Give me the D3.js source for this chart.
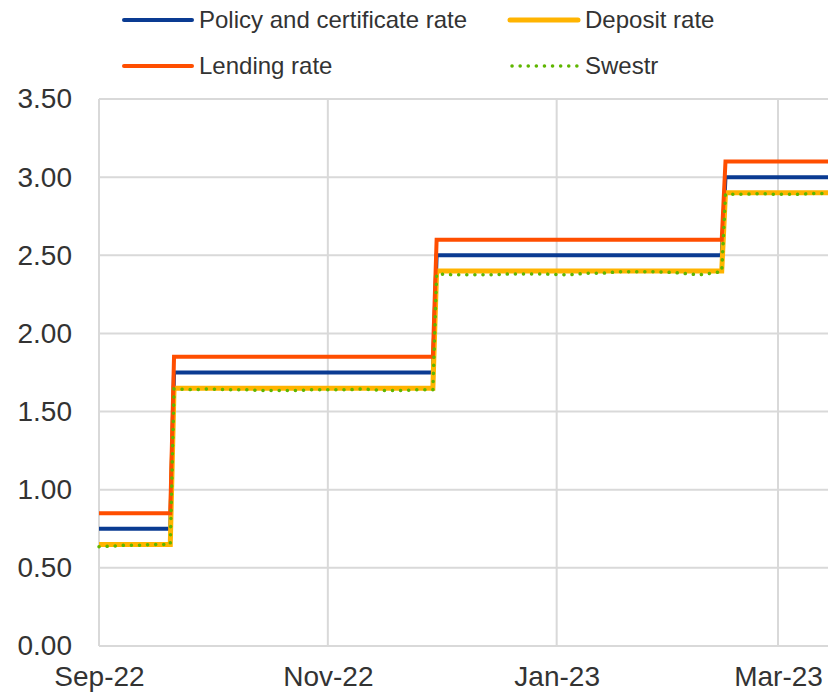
<!DOCTYPE html>
<html>
<head>
<meta charset="utf-8">
<script src="https://cdn.jsdelivr.net/npm/d3@7"></script>
<style>
  html, body { margin: 0; padding: 0; background: #fff; }
  svg { display: block; font-family: "Liberation Sans", Arial, sans-serif; }
</style>
</head>
<body>
<div id="chart"></div>
<script>
// Step dates for the Riksbank rates (day before / day of each change)
const stepDates = ["2022-09-01", "2022-09-20", "2022-09-21", "2022-11-29", "2022-11-30",
  "2023-02-14", "2023-02-15", "2023-03-15"];
const policyRate = [0.75, 0.75, 1.75, 1.75, 2.50, 2.50, 3.00, 3.00];
const depositRate = [0.65, 0.65, 1.65, 1.65, 2.40, 2.40, 2.90, 2.90];
const lendingRate = [0.85, 0.85, 1.85, 1.85, 2.60, 2.60, 3.10, 3.10];

const swestrDates = ["2022-09-01", "2022-09-05", "2022-09-08", "2022-09-12", "2022-09-15", "2022-09-20",
  "2022-09-21", "2022-09-26", "2022-09-30", "2022-10-05", "2022-10-10", "2022-10-14", "2022-10-19",
  "2022-10-24", "2022-10-28", "2022-11-02", "2022-11-07", "2022-11-10", "2022-11-16", "2022-11-21",
  "2022-11-25", "2022-11-29", "2022-11-30", "2022-12-05", "2022-12-09", "2022-12-14", "2022-12-19",
  "2022-12-23", "2022-12-29", "2023-01-04", "2023-01-09", "2023-01-13", "2023-01-18", "2023-01-23",
  "2023-01-27", "2023-02-01", "2023-02-08", "2023-02-14", "2023-02-15", "2023-02-20", "2023-02-24",
  "2023-03-01", "2023-03-06", "2023-03-10", "2023-03-15"];
const swestr = [0.635, 0.64, 0.645, 0.645, 0.65, 0.65,
  1.645, 1.64, 1.645, 1.64, 1.64, 1.635, 1.635,
  1.635, 1.64, 1.64, 1.64, 1.645, 1.635, 1.635,
  1.64, 1.64, 2.38, 2.375, 2.375, 2.375, 2.38,
  2.38, 2.38, 2.375, 2.385, 2.385, 2.395, 2.395,
  2.395, 2.39, 2.375, 2.395, 2.89, 2.89, 2.895,
  2.89, 2.89, 2.895, 2.895];

const yTicks = [0, 0.5, 1, 1.5, 2, 2.5, 3, 3.5];
const xTicks = ["2022-09-01", "2022-11-01", "2023-01-01", "2023-03-01"];

const colors = {
  "Policy and certificate rate": "#0a3b92",
  "Deposit rate": "#ffb400",
  "Lending rate": "#ff4e00",
  "Swestr": "#5fb600"
};

const parse = d3.timeParse("%Y-%m-%d");
const W = 828, H = 695;

const svg = d3.select("#chart").append("svg")
  .attr("width", W)
  .attr("height", H);

const x = d3.scaleTime()
  .domain([parse("2022-09-01"), parse("2023-03-01")])
  .range([99, 778]);
const y = d3.scaleLinear().domain([0, 3.5]).range([646, 99]);

// Gridlines
svg.append("g")
  .selectAll("line")
  .data(yTicks)
  .join("line")
  .attr("x1", 99).attr("x2", W)
  .attr("y1", d => y(d)).attr("y2", d => y(d))
  .attr("stroke", "#d9d9d9").attr("stroke-width", 2);

svg.append("g")
  .selectAll("line")
  .data(xTicks.map(parse))
  .join("line")
  .attr("x1", d => x(d)).attr("x2", d => x(d))
  .attr("y1", 99).attr("y2", 646)
  .attr("stroke", "#d9d9d9").attr("stroke-width", 2);

// Axes (labels only)
const yAxis = svg.append("g")
  .attr("transform", "translate(99,0)")
  .call(d3.axisLeft(y).tickValues(yTicks).tickFormat(d3.format(".2f")).tickSize(0).tickPadding(27));
yAxis.select(".domain").remove();
yAxis.selectAll("text").attr("font-size", 28).attr("fill", "#333").attr("font-family", null);

const xAxis = svg.append("g")
  .attr("transform", "translate(0,646)")
  .call(d3.axisBottom(x).tickValues(xTicks.map(parse)).tickFormat(d3.timeFormat("%b-%y")).tickSize(0).tickPadding(20));
xAxis.select(".domain").remove();
xAxis.selectAll("text").attr("font-size", 28).attr("fill", "#333").attr("font-family", null);

// Series
const line = d3.line().x(d => x(d.date)).y(d => y(d.value));
const toPoints = (dates, vals) => dates.map((d, i) => ({ date: parse(d), value: vals[i] }));

const series = [
  { name: "Policy and certificate rate", points: toPoints(stepDates, policyRate), width: 4 },
  { name: "Deposit rate", points: toPoints(stepDates, depositRate), width: 5 },
  { name: "Lending rate", points: toPoints(stepDates, lendingRate), width: 4 },
  { name: "Swestr", points: toPoints(swestrDates, swestr), width: 3.5, dash: "0.1,8" }
];

svg.append("g")
  .selectAll("path")
  .data(series)
  .join("path")
  .attr("d", d => line(d.points))
  .attr("fill", "none")
  .attr("stroke", d => colors[d.name])
  .attr("stroke-width", d => d.width)
  .attr("stroke-linecap", d => d.dash ? "round" : "butt")
  .attr("stroke-linejoin", "miter")
  .attr("stroke-dasharray", d => d.dash || null);

// Legend
const legendItems = [
  { name: "Policy and certificate rate", lx: 124, ly: 20, w: 4 },
  { name: "Deposit rate", lx: 510, ly: 20, w: 5 },
  { name: "Lending rate", lx: 124, ly: 66, w: 4 },
  { name: "Swestr", lx: 510, ly: 66, w: 3.5, dash: "0.1,8" }
];
const legend = svg.append("g")
  .selectAll("g")
  .data(legendItems)
  .join("g")
  .attr("transform", d => `translate(${d.lx},${d.ly})`);
legend.append("line")
  .attr("x1", d => d.dash ? 2 : 0).attr("x2", 68)
  .attr("stroke", d => colors[d.name])
  .attr("stroke-width", d => d.w)
  .attr("stroke-linecap", "round")
  .attr("stroke-dasharray", d => d.dash || null);
legend.append("text")
  .attr("x", 75)
  .attr("dy", "0.35em")
  .attr("font-size", 24)
  .attr("fill", "#333")
  .text(d => d.name);
</script>
</body>
</html>
